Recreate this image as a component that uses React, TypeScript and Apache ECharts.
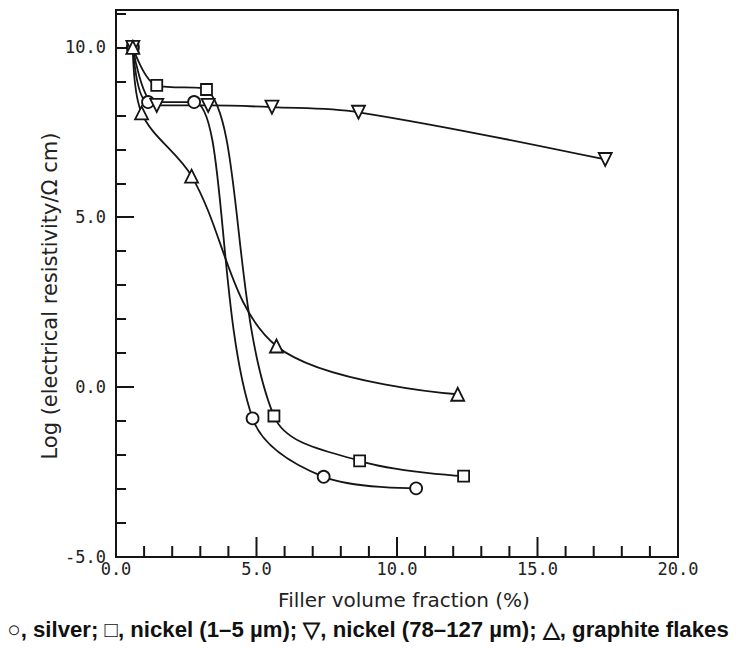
import React, { useEffect, useRef } from "react";
import * as echarts from "echarts";

const silverX = [0.6, 1.14, 2.78, 4.86, 7.39, 10.68];
const silverY = [10.0, 8.39, 8.39, -0.92, -2.64, -2.98];

const nickelSmallX = [0.6, 1.45, 3.22, 5.62, 8.67, 12.37];
const nickelSmallY = [10.0, 8.88, 8.76, -0.85, -2.17, -2.62];

const nickelLargeX = [0.6, 1.45, 3.28, 5.55, 8.63, 17.41];
const nickelLargeY = [10.0, 8.29, 8.29, 8.24, 8.09, 6.7];

const graphiteX = [0.6, 0.91, 2.69, 5.71, 12.16];
const graphiteY = [10.0, 8.07, 6.21, 1.21, -0.21];

const xMajorTicks = [0, 5, 10, 15, 20];
const xMinorTicks = [1, 2, 3, 4, 6, 7, 8, 9, 11, 12, 13, 14, 16, 17, 18, 19];

const xTitle = "Filler volume fraction (%)";
const yTitle = "Log (electrical resistivity/\u03a9 cm)";
const caption =
  "\u25cb, silver; \u25a1, nickel (1\u20135 \u00b5m); \u25bd, nickel (78\u2013127 \u00b5m); \u25b3, graphite flakes";

const pair = (xs: number[], ys: number[]) => xs.map((x, i) => [x, ys[i]]);

const INK = "#151515";
const MONO = "'DejaVu Sans Mono', monospace";
const SANS = "'DejaVu Sans', sans-serif";
const Y_MIN = -5;
const Y_MAX = 11.1;

export default function App() {
  const ref = useRef<HTMLDivElement>(null);
  useEffect(() => {
    document.body.style.margin = "0";
    const chart = echarts.init(ref.current!, null, { renderer: "svg" });
    const mk = (name: string, xs: number[], ys: number[], symbol: string, size: number) => ({
      name,
      type: "line",
      data: pair(xs, ys),
      smooth: 0.35,
      symbol,
      symbolSize: size,
      showSymbol: true,
      lineStyle: { color: INK, width: 1.8 },
      itemStyle: { color: "#fff", borderColor: INK, borderWidth: 1.8 },
      z: 3,
    });
    const texts = [
      {
        type: "text",
        x: 404,
        y: 600,
        style: {
          text: xTitle,
          fontFamily: SANS,
          fontSize: 20,
          fill: "#222",
          align: "center",
          verticalAlign: "middle",
        },
      },
      {
        type: "text",
        x: 50,
        y: 296,
        rotation: Math.PI / 2,
        style: {
          text: yTitle,
          fontFamily: SANS,
          fontSize: 21,
          fill: "#222",
          align: "center",
          verticalAlign: "middle",
        },
      },
      {
        type: "text",
        x: 368,
        y: 629,
        style: {
          text: caption,
          fontFamily: "'Liberation Sans', Arial, sans-serif",
          fontSize: 22.2,
          fontWeight: "bold",
          fill: "#111",
          align: "center",
          verticalAlign: "middle",
        },
      },
    ];
    chart.setOption({
      animation: false,
      backgroundColor: "#fff",
      grid: {
        left: 116,
        right: 59,
        top: 10,
        bottom: 91,
        show: true,
        borderColor: INK,
        borderWidth: 2,
        backgroundColor: "transparent",
      },
      xAxis: {
        type: "value",
        min: 0,
        max: 20,
        interval: 5,
        axisLine: { show: true, onZero: false, lineStyle: { color: INK, width: 2 } },
        axisTick: { show: false },
        minorTick: { show: false },
        splitLine: { show: false },
        axisLabel: {
          fontFamily: MONO,
          fontSize: 17,
          color: "#222",
          margin: 3,
          formatter: (v: number) => v.toFixed(1),
        },
      },
      yAxis: {
        type: "value",
        min: Y_MIN,
        max: Y_MAX,
        interval: 5,
        axisLine: { show: true, onZero: false, lineStyle: { color: INK, width: 2 } },
        axisTick: { show: true, inside: true, length: 18, lineStyle: { color: INK, width: 2 } },
        minorTick: { show: true, splitNumber: 5, length: 10, lineStyle: { color: INK, width: 2 } },
        splitLine: { show: false },
        axisLabel: {
          fontFamily: MONO,
          fontSize: 17,
          color: "#222",
          margin: 10,
          showMaxLabel: false,
          formatter: (v: number) => v.toFixed(1),
        },
      },
      graphic: texts,
      series: [
        mk("silver", silverX, silverY, "circle", 12),
        mk("nickel (1–5 µm)", nickelSmallX, nickelSmallY, "rect", 11),
        mk("nickel (78–127 µm)", nickelLargeX, nickelLargeY, "path://M0,0 L12,0 L6,11 Z", 13),
        mk("graphite flakes", graphiteX, graphiteY, "triangle", 13),
      ],
    });
    const tickLines = (ticks: number[], len: number) =>
      ticks.map((v) => {
        const p = chart.convertToPixel({ gridIndex: 0 }, [v, Y_MIN]) as number[];
        return {
          type: "rect",
          z: 100,
          shape: { x: p[0] - 1, y: p[1] - len, width: 2, height: len },
          style: { fill: INK, stroke: "none" },
        };
      });
    chart.setOption({
      graphic: [...texts, ...tickLines(xMajorTicks, 20), ...tickLines(xMinorTicks, 11)],
    });
    return () => chart.dispose();
  }, []);
  return <div ref={ref} style={{ width: 737, height: 648 }} />;
}
